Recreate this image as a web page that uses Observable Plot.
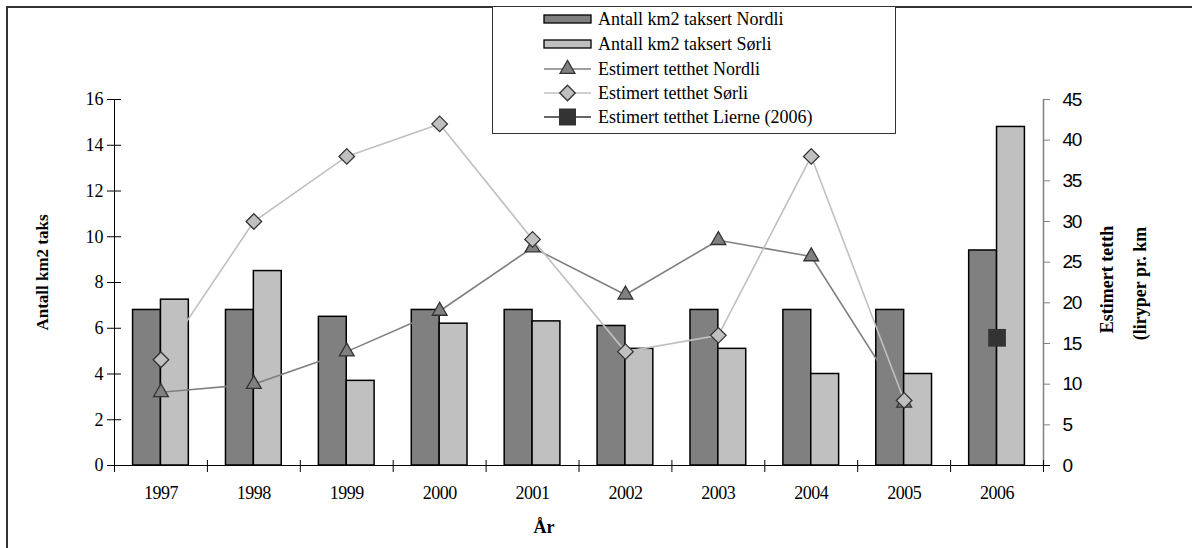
<!DOCTYPE html>
<html><head><meta charset="utf-8">
<script src="https://cdn.jsdelivr.net/npm/d3@7"></script>
<script src="https://cdn.jsdelivr.net/npm/@observablehq/plot@0.6"></script>
<style>
body{margin:0;background:#fff;overflow:hidden;}
#wrap{position:relative;width:1192px;height:548px;overflow:hidden;background:#fff;}
#frame{position:absolute;left:6px;top:6px;width:1300px;height:700px;border:2px solid #333;box-sizing:border-box;}
#chart{position:absolute;left:0;top:0;}
#legend{position:absolute;left:492px;top:6px;width:404px;height:128px;border:1px solid #333;box-sizing:border-box;background:#fff;}
</style></head>
<body><div id="wrap"><div id="frame"></div><div id="chart"></div><div id="legend"></div></div>
<script>
const years = [1997, 1998, 1999, 2000, 2001, 2002, 2003, 2004, 2005, 2006];
const kmNordli = [6.8, 6.8, 6.5, 6.8, 6.8, 6.1, 6.8, 6.8, 6.8, 9.4];
const kmSorli = [7.25, 8.5, 3.7, 6.2, 6.3, 5.1, 5.1, 4.0, 4.0, 14.8];
const densNordli = [9, 10, 14, 19, 26.8, 21, 27.7, 25.7, 7.7, null];
const densSorli = [13, 30, 38, 42, 27.8, 14, 16, 38, 8, null];
const lierneYears = [2006];
const densLierne = [15.7];
const leftTicks = [0, 2, 4, 6, 8, 10, 12, 14, 16];
const rightTicks = [0, 5, 10, 15, 20, 25, 30, 35, 40, 45];
const legendLabels = ["Antall km2 taksert Nordli", "Antall km2 taksert Sørli", "Estimert tetthet Nordli", "Estimert tetthet Sørli", "Estimert tetthet Lierne (2006)"];
const xTitle = "År";
const yTitle = "Antall km2 taks";
const y2Title = ["Estimert tetth", "(liryper pr. km"];

const cN = "#808080", cS = "#c0c0c0", cL = "#333333";
const k = 16 / 45; // right axis -> left axis units
const rows = years.map((year, i) => ({year, kmN: kmNordli[i], kmS: kmSorli[i], dN: densNordli[i], dS: densSorli[i]}));
const lierne = lierneYears.map((year, i) => ({year, d: densLierne[i]}));
const half = 0.3;
const bounds = years.map(y => y - 0.5).concat([years[years.length - 1] + 0.5]);
const serif = "Liberation Serif", sans = "Liberation Sans";

const chart = Plot.plot({
  width: 1192, height: 548,
  marginLeft: 114, marginRight: 149, marginTop: 99, marginBottom: 83,
  style: {fontFamily: serif, fontSize: "17px", background: "transparent", overflow: "visible"},
  x: {domain: [bounds[0], bounds[bounds.length - 1]], axis: null},
  y: {domain: [0, 16], axis: null},
  marks: [
    Plot.rectY(rows, {x1: d => d.year - half, x2: d => d.year, y1: 0, y2: "kmN", fill: cN, stroke: "#000", strokeWidth: 1.5}),
    Plot.rectY(rows, {x1: d => d.year, x2: d => d.year + half, y1: 0, y2: "kmS", fill: cS, stroke: "#000", strokeWidth: 1.5}),
    // axes
    Plot.ruleX([bounds[0]], {y1: 0, y2: 16, stroke: "#000"}),
    Plot.axisY(leftTicks, {tickSize: 14, dx: 7, fill: "none", stroke: "#000", label: null}),
    Plot.axisY(leftTicks, {tickSize: 0, tickPadding: 11, stroke: "none", fill: "#000", label: null}),
    Plot.ruleX([bounds[bounds.length - 1]], {y1: 0, y2: 16, stroke: "#808080", strokeWidth: 1.5}),
    Plot.axisY(rightTicks.map(v => v * k), {anchor: "right", tickSize: 6, fill: "none", stroke: "#808080", label: null}),
    Plot.axisY(rightTicks.map(v => v * k), {anchor: "right", tickSize: 0, tickPadding: 19, stroke: "none", fill: "#000", tickFormat: d => String(Math.round(d / k)), label: null}),
    Plot.ruleY([0], {stroke: "#000", insetRight: -7, insetLeft: -7}),
    Plot.axisX(bounds, {tickSize: 12, dy: -5, fill: "none", stroke: "#000", label: null}),
    Plot.axisX(years, {tickSize: 0, tickPadding: 21, stroke: "none", fill: "#000", tickFormat: d => String(d), label: null}),
    // series lines
    Plot.line(rows.filter(d => d.dN != null), {x: "year", y: d => d.dN * k, stroke: cN, strokeWidth: 1.6}),
    Plot.dot(rows.filter(d => d.dN != null), {x: "year", y: d => d.dN * k, symbol: "triangle", r: 5.5, fill: cN, stroke: cL, strokeWidth: 1.3}),
    Plot.line(rows.filter(d => d.dS != null), {x: "year", y: d => d.dS * k, stroke: cS, strokeWidth: 1.6}),
    Plot.dot(rows.filter(d => d.dS != null), {x: "year", y: d => d.dS * k, symbol: "diamond2", r: 7, fill: cS, stroke: cL, strokeWidth: 1.3}),
    Plot.dot(lierne, {x: "year", y: d => d.d * k, symbol: "square", r: 10, fill: cL, stroke: "none"}),
    // titles
    Plot.text([xTitle], {text: d => d, frameAnchor: "bottom", textAnchor: "middle", dx: -35, dy: 67, fontWeight: "bold", fontSize: 18}),
    Plot.text([yTitle], {text: d => d, frameAnchor: "left", textAnchor: "middle", dx: -72, dy: -10, rotate: -90, fontWeight: "bold", fontSize: 17, letterSpacing: -0.8}),
    Plot.text([y2Title[0]], {text: d => d, frameAnchor: "right", textAnchor: "middle", dx: 64, dy: -3, rotate: -90, fontWeight: "bold", fontSize: 18, letterSpacing: -0.6}),
    Plot.text([y2Title[1]], {text: d => d, frameAnchor: "right", textAnchor: "middle", dx: 97, dy: 1, rotate: -90, fontWeight: "bold", fontSize: 18, letterSpacing: -0.6})
  ]
});
document.getElementById("chart").appendChild(chart);
// enlarge tick labels
d3.select(chart).selectAll("g").each(function () {
  const a = this.getAttribute("aria-label") || "";
  if (!a.includes("tick label")) return;
  const anchor = this.getAttribute("text-anchor");
  const g = d3.select(this);
  if (a.startsWith("x")) {
    g.attr("font-size", 18).attr("font-family", serif).attr("letter-spacing", "-0.5");
  } else if (anchor === "start") {
    g.attr("font-size", 19).attr("font-family", sans).attr("letter-spacing", "-1.2");
  } else {
    g.attr("font-size", 18).attr("font-family", serif);
  }
  g.selectAll("text").attr("font-size", null).style("font-size", null);
});

// legend
const lg = d3.select("#legend").append("svg").attr("width", 402).attr("height", 126)
  .style("font-family", serif).style("font-size", "18px");
const rowY = [12, 37, 62, 86, 110];
const sx0 = 51, sx1 = 98, tx = 105;
legendLabels.forEach((lab, i) => {
  const g = lg.append("g").attr("transform", `translate(0,${rowY[i]})`);
  if (i < 2) {
    g.append("rect").attr("x", sx0).attr("y", -4).attr("width", sx1 - sx0).attr("height", 8)
      .attr("fill", i === 0 ? cN : cS).attr("stroke", "#000").attr("stroke-width", 1.3);
  } else {
    const col = i === 2 ? cN : i === 3 ? cS : cL;
    g.append("line").attr("x1", sx0).attr("x2", sx1).attr("y1", 0).attr("y2", 0).attr("stroke", col).attr("stroke-width", 1.6);
    const sym = i === 2 ? d3.symbol(d3.symbolTriangle, Math.PI * 5.5 * 5.5) : i === 3 ? d3.symbol(d3.symbolDiamond2, Math.PI * 7 * 7) : d3.symbol(d3.symbolSquare, 17 * 17);
    g.append("path").attr("d", sym()).attr("transform", `translate(${(sx0 + sx1) / 2},0)`)
      .attr("fill", i === 2 ? cN : i === 3 ? cS : cL).attr("stroke", i === 4 ? "none" : cL).attr("stroke-width", 1.3);
  }
  g.append("text").attr("x", tx).attr("y", 0).attr("dy", "0.35em").text(lab);
});
</script></body></html>
